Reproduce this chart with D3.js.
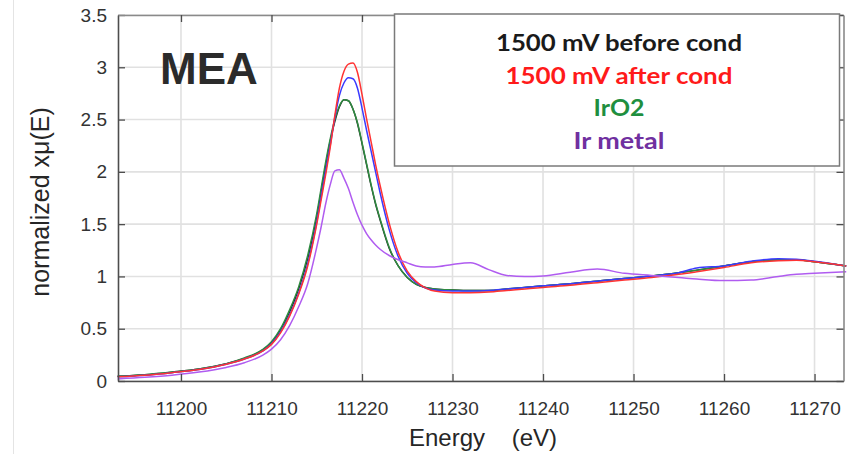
<!DOCTYPE html>
<html>
<head>
<meta charset="utf-8">
<script src="https://cdn.jsdelivr.net/npm/d3@7"></script>
<style>
  html, body { margin: 0; padding: 0; background: #fff; }
  svg { display: block; }
</style>
</head>
<body>
<svg id="chart" width="851" height="454"></svg>
<script>
// ---------- data ----------
const energy = [11193, 11196, 11199, 11202, 11205, 11207, 11209, 11210, 11211, 11212, 11213, 11214, 11215, 11215.5, 11216, 11216.5, 11217, 11217.5, 11218, 11218.5, 11219, 11219.5, 11220, 11220.5, 11221, 11221.5, 11222, 11223, 11224, 11225, 11226, 11227, 11228, 11230, 11232, 11234, 11236, 11238, 11240, 11243, 11246, 11249, 11252, 11255, 11257, 11260, 11263, 11266, 11268, 11270, 11273.5];

const beforeCond = [0.045, 0.06, 0.085, 0.115, 0.165, 0.215, 0.295, 0.365, 0.49, 0.66, 0.88, 1.17, 1.57, 1.82, 2.07, 2.30, 2.48, 2.62, 2.69, 2.68, 2.60, 2.46, 2.27, 2.07, 1.87, 1.69, 1.54, 1.27, 1.10, 0.99, 0.925, 0.895, 0.88, 0.87, 0.865, 0.865, 0.88, 0.895, 0.91, 0.93, 0.955, 0.98, 1.005, 1.035, 1.06, 1.10, 1.14, 1.16, 1.16, 1.14, 1.10];

const afterCond = [0.04, 0.055, 0.08, 0.11, 0.16, 0.21, 0.285, 0.35, 0.46, 0.62, 0.83, 1.10, 1.50, 1.74, 1.98, 2.24, 2.54, 2.80, 2.96, 3.03, 3.04, 2.95, 2.74, 2.51, 2.29, 2.07, 1.87, 1.51, 1.23, 1.05, 0.95, 0.89, 0.86, 0.845, 0.845, 0.85, 0.865, 0.88, 0.895, 0.915, 0.94, 0.965, 0.99, 1.02, 1.045, 1.085, 1.13, 1.15, 1.155, 1.14, 1.10];

const blueScan = [0.04, 0.055, 0.08, 0.11, 0.16, 0.21, 0.285, 0.355, 0.47, 0.63, 0.84, 1.12, 1.52, 1.77, 2.02, 2.26, 2.52, 2.73, 2.85, 2.90, 2.89, 2.80, 2.61, 2.40, 2.20, 2.00, 1.80, 1.45, 1.19, 1.03, 0.94, 0.89, 0.87, 0.86, 0.86, 0.865, 0.88, 0.895, 0.91, 0.93, 0.955, 0.98, 1.005, 1.035, 1.08, 1.10, 1.145, 1.17, 1.165, 1.145, 1.10];

const irO2 = [0.045, 0.06, 0.085, 0.115, 0.165, 0.22, 0.30, 0.375, 0.50, 0.68, 0.90, 1.20, 1.60, 1.85, 2.10, 2.32, 2.50, 2.63, 2.69, 2.68, 2.60, 2.47, 2.28, 2.08, 1.88, 1.70, 1.55, 1.28, 1.10, 0.99, 0.925, 0.895, 0.88, 0.87, 0.865, 0.865, 0.88, 0.895, 0.91, 0.93, 0.955, 0.98, 1.005, 1.035, 1.06, 1.10, 1.14, 1.16, 1.16, 1.14, 1.10];

const irMetal = [0.02, 0.035, 0.055, 0.085, 0.13, 0.175, 0.245, 0.305, 0.395, 0.53, 0.71, 0.93, 1.28, 1.48, 1.70, 1.88, 2.01, 2.02, 1.94, 1.84, 1.71, 1.59, 1.49, 1.41, 1.35, 1.30, 1.26, 1.20, 1.16, 1.13, 1.10, 1.09, 1.09, 1.115, 1.13, 1.065, 1.01, 1.0, 1.005, 1.04, 1.07, 1.03, 1.01, 0.99, 0.975, 0.96, 0.965, 1.0, 1.02, 1.03, 1.045];

const xTicks = [11200, 11210, 11220, 11230, 11240, 11250, 11260, 11270];
const yTicks = [0, 0.5, 1, 1.5, 2, 2.5, 3, 3.5];
const legendLabels = ["1500 mV before cond", "1500 mV after cond", "IrO2", "Ir metal"];
const legendColors = ["#1a1a1a", "#ff1a1a", "#1f8f3f", "#7030a0"];

// ---------- layout ----------
const svg = d3.select("#chart");
const L = 118, R = 843.5, T = 15, B = 381;
const x = d3.scaleLinear().domain([11193.04, 11273.2]).range([L, R]);
const y = d3.scaleLinear().domain([0, 3.5]).range([B, T]);

// faint outer frame line at left
svg.append("line").attr("x1", 13.5).attr("x2", 13.5).attr("y1", 0).attr("y2", 454)
  .attr("stroke", "#e4e4e4").attr("stroke-width", 1);

// grid
const grid = svg.append("g");
grid.selectAll("line.v").data(xTicks).join("line")
  .attr("x1", d => x(d)).attr("x2", d => x(d)).attr("y1", T).attr("y2", B)
  .attr("stroke", "#e1e1e1").attr("stroke-width", 1.6);
grid.selectAll("line.h").data(yTicks).join("line")
  .attr("x1", L).attr("x2", R).attr("y1", d => y(d)).attr("y2", d => y(d))
  .attr("stroke", "#e1e1e1").attr("stroke-width", 1.6);

// curves
const line = d3.line().x((d, i) => x(energy[i])).y(d => y(d)).curve(d3.curveMonotoneX);
const curves = [
  { data: beforeCond, color: "#222222", w: 1.4 },
  { data: irO2, color: "#2e8b40", w: 1.5 },
  { data: blueScan, color: "#3a3aff", w: 1.5 },
  { data: afterCond, color: "#ff3333", w: 1.5 },
  { data: irMetal, color: "#b05cf0", w: 1.5 }
];
const plot = svg.append("g");
plot.selectAll("path").data(curves).join("path")
  .attr("d", d => line(d.data))
  .attr("fill", "none")
  .attr("stroke", d => d.color)
  .attr("stroke-width", d => d.w)
  .attr("stroke-linejoin", "round");

// axes (MATLAB-like box with inward ticks)
const axisColor = "#4d4d4d";
const labelFont = "'Liberation Sans', Arial, sans-serif";
const xAxis = svg.append("g").attr("transform", `translate(0,${B})`)
  .call(d3.axisBottom(x).tickValues(xTicks).tickFormat(d3.format("d")).tickSizeInner(-7).tickSizeOuter(0).tickPadding(21));
const yAxis = svg.append("g").attr("transform", `translate(${L},0)`)
  .call(d3.axisLeft(y).tickValues(yTicks).tickFormat(d => String(d)).tickSizeInner(-7).tickSizeOuter(0).tickPadding(11));
const xTop = svg.append("g").attr("transform", `translate(0,${T})`)
  .call(d3.axisTop(x).tickValues(xTicks).tickFormat("").tickSizeInner(-7).tickSizeOuter(0));
const yRight = svg.append("g").attr("transform", `translate(${R},0)`)
  .call(d3.axisRight(y).tickValues(yTicks).tickFormat("").tickSizeInner(-7).tickSizeOuter(0));
[xAxis, yAxis, xTop, yRight].forEach(g => {
  g.select(".domain").attr("stroke", axisColor).attr("stroke-width", 1.6);
  g.selectAll(".tick line").attr("stroke", axisColor).attr("stroke-width", 1.3);
  g.selectAll(".tick text").attr("fill", "#333").attr("font-family", labelFont).attr("font-size", 19);
});
xTop.select(".domain").attr("stroke", "#8a8a8a");
yRight.select(".domain").attr("stroke", "#8a8a8a");

// axis titles
svg.append("text").attr("x", 483).attr("y", 446)
  .attr("text-anchor", "middle").attr("font-family", labelFont).attr("font-size", 24)
  .attr("fill", "#262626").style("white-space", "pre").text("Energy    (eV)");
svg.append("text").attr("transform", "translate(49,202) rotate(-90)")
  .attr("text-anchor", "middle").attr("font-family", labelFont).attr("font-size", 25)
  .attr("fill", "#262626").text("normalized xμ(E)");

// MEA label
svg.append("text").attr("x", 160).attr("y", 83.5)
  .attr("font-family", labelFont).attr("font-weight", "bold").attr("font-size", 44)
  .attr("fill", "#2b2b2b").text("MEA");

// legend box
const legendWidths = [246, 227, 51, 91];
const lg = svg.append("g");
lg.append("rect").attr("x", 394.5).attr("y", 14).attr("width", 445).attr("height", 152)
  .attr("fill", "#fff").attr("stroke", "#7a7a7a").attr("stroke-width", 1.5);
lg.selectAll("text").data(legendLabels).join("text")
  .attr("x", (d, i) => 619 - legendWidths[i] / 2).attr("y", (d, i) => 51 + i * 32.5)
  .attr("textLength", (d, i) => legendWidths[i])
  .attr("lengthAdjust", "spacingAndGlyphs")
  .attr("font-family", "Lato, 'Open Sans', sans-serif").attr("font-weight", "bold").attr("font-size", 23)
  .attr("fill", (d, i) => legendColors[i]).text(d => d);
</script>
</body>
</html>
